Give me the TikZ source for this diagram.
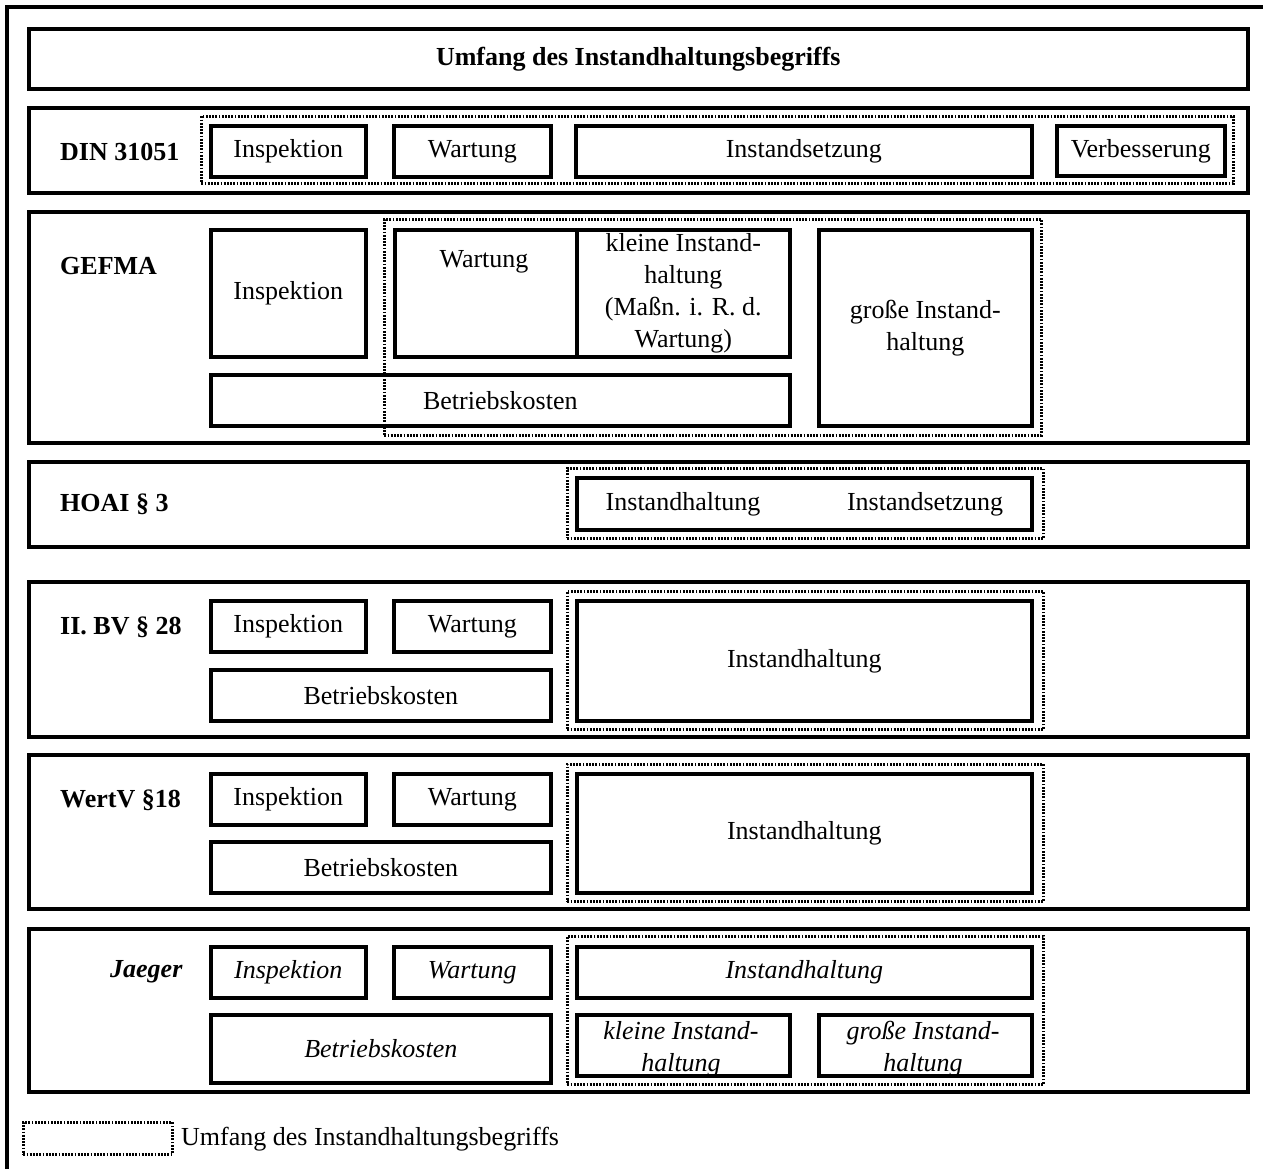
\documentclass[tikz,border=0pt]{standalone}
\usepackage{fontspec}
\setmainfont{Liberation Serif}
\begin{document}
\begin{tikzpicture}[x=1pt,y=-1pt,
  every node/.style={font=\fontsize{26}{32}\selectfont, inner sep=0pt},
  box/.style={draw, line width=3.6pt, rectangle, align=center},
  dotbox/.style={draw, line width=2.6pt, dash pattern=on 1.8pt off 1.4pt, rectangle},
  lbl/.style={anchor=west, font=\fontsize{26}{32}\selectfont\bfseries},
  txt/.style={align=center}]
\newcommand\rb[7]{\node[#2, anchor=north west, minimum width={#5-#3}, minimum height={#6-#4}] (#1) at (#3,#4) {#7};}
\useasboundingbox (0,0) rectangle (1266,1169);
% outer frame (left and top only)
\draw[line width=3.6pt] (7,1169) -- (7,7) -- (1263,7);
% title
\rb{title}{box}{27}{27}{1246}{87}{\bfseries Umfang des Instandhaltungsbegriffs}
% DIN 31051
\rb{din}{box}{27}{106}{1246}{191}{}
\node[lbl] (dinl) at (60,152) {DIN 31051};
\rb{dot1}{dotbox}{200}{115}{1232}{182}{}
\rb{insp1}{box}{209}{124}{364}{175}{Inspektion}
\rb{wart1}{box}{392}{124}{549}{175}{Wartung}
\rb{iset1}{box}{574}{124}{1030}{175}{Instandsetzung}
\rb{verb1}{box}{1055}{124}{1223}{174}{Verbesserung}
% GEFMA
\rb{gefma}{box}{27}{210}{1246}{441}{}
\node[lbl] (gefmal) at (60,266) {GEFMA};
\rb{insp2}{box}{209}{228}{364}{355}{Inspektion}
\rb{dot2}{dotbox}{383}{218}{1040}{434}{}
\rb{wart2}{box}{393}{228}{575}{355}{}
\node[txt] (wart2t) at (484,262) {Wartung};
\rb{klein2}{box}{575}{228}{788}{355}{kleine Instand-\\haltung\\(Maßn. i. R. d.\\Wartung)}
\rb{betr2}{box}{209}{373}{788}{424}{Betriebskosten}
\rb{gross2}{box}{817}{228}{1030}{424}{große Instand-\\haltung}
% HOAI
\rb{hoai}{box}{27}{460}{1246}{545}{}
\node[lbl] (hoail) at (60,504) {HOAI § 3};
\rb{dot3}{dotbox}{566}{467}{1042}{537}{}
\rb{ih3}{box}{575}{476}{1030}{528}{}
\node[txt] (ih3a) at (683,504) {Instandhaltung};
\node[txt] (ih3b) at (925,504) {Instandsetzung};
% II. BV 28
\rb{bv}{box}{27}{580}{1246}{735}{}
\node[lbl] (bvl) at (60,627) {II. BV § 28};
\rb{insp4}{box}{209}{599}{364}{650}{Inspektion}
\rb{wart4}{box}{392}{599}{549}{650}{Wartung}
\rb{betr4}{box}{209}{668}{549}{719}{Betriebskosten}
\rb{dot4}{dotbox}{566}{590}{1042}{728}{}
\rb{ih4}{box}{575}{599}{1030}{719}{Instandhaltung}
% WertV 18
\rb{wertv}{box}{27}{753}{1246}{907}{}
\node[lbl] (wertvl) at (60,800) {WertV §18};
\rb{insp5}{box}{209}{772}{364}{823}{Inspektion}
\rb{wart5}{box}{392}{772}{549}{823}{Wartung}
\rb{betr5}{box}{209}{840}{549}{891}{Betriebskosten}
\rb{dot5}{dotbox}{566}{763}{1042}{900}{}
\rb{ih5}{box}{575}{772}{1030}{891}{Instandhaltung}
% Jaeger
\rb{jaeger}{box}{27}{927}{1246}{1090}{}
\node[lbl, font=\fontsize{26}{32}\selectfont\bfseries\itshape] (jaegerl) at (110,972) {Jaeger};
\rb{insp6}{box}{209}{945}{364}{996}{\itshape Inspektion}
\rb{wart6}{box}{392}{945}{549}{996}{\itshape Wartung}
\rb{betr6}{box}{209}{1013}{549}{1081}{\itshape Betriebskosten}
\rb{dot6}{dotbox}{566}{935}{1042}{1083}{}
\rb{ih6}{box}{575}{945}{1030}{996}{\itshape Instandhaltung}
\node[txt, font=\fontsize{26}{32}\selectfont\itshape] (klein6t) at (681,1049) {kleine Instand-\\haltung};
\node[txt, font=\fontsize{26}{32}\selectfont\itshape] (gross6t) at (923,1049) {große Instand-\\haltung};
\rb{klein6}{box}{575}{1013}{788}{1074}{}
\rb{gross6}{box}{817}{1013}{1030}{1074}{}
% legend
\rb{legbox}{dotbox}{22}{1121}{171}{1153}{}
\node[anchor=west] (legt) at (181,1139) {Umfang des Instandhaltungsbegriffs};
\end{tikzpicture}
\end{document}
